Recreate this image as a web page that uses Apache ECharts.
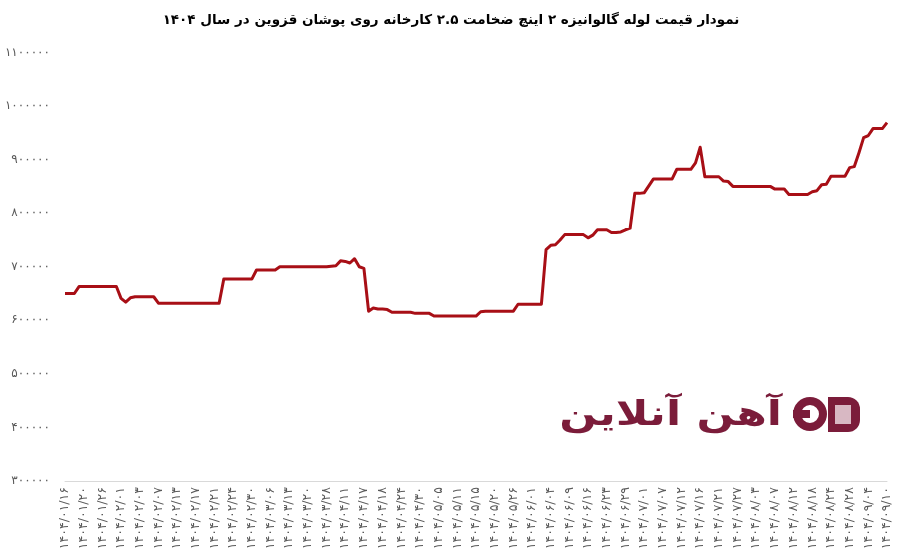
<!DOCTYPE html>
<html><head><meta charset="utf-8">
<script src="https://cdn.jsdelivr.net/npm/echarts@6/dist/echarts.min.js"></script>
<style>html,body{margin:0;padding:0;background:#fff}#c{width:902px;height:557px}</style>
</head><body><div id="c"></div><script>
const titleText = 'نمودار قیمت لوله گالوانیزه ۲ اینچ ضخامت ۲.۵ کارخانه روی پوشان قزوین در سال ۱۴۰۴';
const watermarkText = 'آهن آنلاین';

// dates shown on the axis (every 4th point)
const labelDates = ['1404/01/16','1404/01/20','1404/01/26','1404/02/01','1404/02/03','1404/02/07','1404/02/13','1404/02/17',
'1404/02/21','1404/02/24','1404/02/30','1404/03/06','1404/03/13','1404/03/20','1404/03/28','1404/04/11','1404/04/17',
'1404/04/18','1404/04/24','1404/04/30','1404/05/05','1404/05/11','1404/05/15','1404/05/20','1404/05/26','1404/06/01',
'1404/06/04','1404/06/09','1404/06/16','1404/06/23','1404/06/29','1404/07/01','1404/07/07','1404/07/12','1404/07/16',
'1404/07/21','1404/07/27','1404/08/03','1404/08/07','1404/08/12','1404/08/18','1404/08/24','1404/08/28','1404/09/04','1404/09/10'];
const pointsPerLabel = 4;

// price (rial), one per point
const prices = [
650000,650000,650000,
663000,663000,663000,663000,663000,663000,663000,663000,663000,
641000,634000,642000,
644000,644000,644000,644000,644000,
632000,632000,632000,632000,632000,632000,632000,632000,632000,632000,632000,632000,632000,632000,
677000,677000,677000,677000,677000,677000,677000,
694000,694000,694000,694000,694000,
700000,700000,700000,700000,700000,700000,700000,700000,700000,700000,700000,
701000,702000,711000,710000,707000,715000,700000,697000,
617000,623000,621000,621000,620000,
615000,615000,615000,615000,615000,
613000,613000,613000,613000,
608000,608000,608000,608000,608000,608000,608000,608000,608000,608000,
616000,
617000,617000,617000,617000,617000,617000,617000,
630000,630000,630000,630000,630000,630000,
732000,740000,741000,750000,
760000,760000,760000,760000,760000,
754000,759000,
769000,769000,769000,
764000,764000,
765000,769000,772000,
837000,837000,838000,
851000,
864000,864000,864000,864000,864000,
882000,882000,882000,882000,
894000,923000,
868000,868000,868000,868000,
860000,859000,
850000,850000,850000,850000,850000,850000,850000,850000,850000,
845000,845000,845000,
835000,835000,835000,835000,835000,
840000,842000,853000,854000,
869000,869000,869000,869000,
885000,887000,913000,941000,945000,
958000,958000,958000,
969000];

const yMin = 300000, yMax = 1100000, yStep = 100000;

const categories = [];
labelDates.forEach((d, k) => {
  categories.push(d);
  if (k < labelDates.length - 1) for (let j = 1; j < pointsPerLabel; j++) categories.push('');
});

const faDigits = '۰۱۲۳۴۵۶۷۸۹';
const toFa = s => String(s).replace(/\d/g, d => faDigits[d]);

const maroon = '#7b1c3a';
const chart = echarts.init(document.getElementById('c'), null, {renderer: 'canvas'});
chart.setOption({
  animation: false,
  backgroundColor: '#ffffff',
  title: {
    text: titleText, left: 'center', top: 8,
    textStyle: {fontFamily: 'DejaVu Sans', fontWeight: 'bold', fontSize: 13.5, color: '#000'}
  },
  grid: {left: 65, right: 15, top: 52.5, bottom: 76},
  xAxis: {
    type: 'category', data: categories, boundaryGap: false,
    axisLine: {lineStyle: {color: '#d9d9d9', width: 1}},
    axisTick: {show: false},
    axisLabel: {interval: pointsPerLabel - 1, rotate: 90, fontSize: 12.5, color: '#595959',
      fontFamily: 'DejaVu Sans', margin: 6, formatter: v => toFa(v)}
  },
  yAxis: {
    type: 'value', min: yMin, max: yMax, interval: yStep,
    axisLine: {show: false}, axisTick: {show: false}, splitLine: {show: false},
    axisLabel: {fontSize: 12, color: '#595959', fontFamily: 'DejaVu Sans', margin: 15, formatter: v => toFa(v)}
  },
  series: [{
    type: 'line', data: prices, symbol: 'none',
    lineStyle: {color: '#a80f16', width: 3, join: 'round'},
    itemStyle: {color: '#a80f16'}
  }],
  graphic: [
    {type: 'text', x: 782, y: 416, scaleX: 1.3, z: -1,
     style: {text: watermarkText, fill: maroon, font: 'bold 34px "DejaVu Sans"', textAlign: 'right', textVerticalAlign: 'middle'}},
    {type: 'ring', shape: {cx: 810, cy: 414, r: 17, r0: 9}, style: {fill: maroon}, z: -1},
    {type: 'rect', shape: {x: 793, y: 410, width: 17, height: 8}, style: {fill: maroon}, z: -1},
    {type: 'rect', shape: {x: 828, y: 397, width: 32, height: 35, r: [0, 12, 12, 0]}, style: {fill: maroon}, z: -1},
    {type: 'rect', shape: {x: 835, y: 405, width: 16, height: 19}, style: {fill: '#d8b8c3'}, z: -1}
  ]
});
</script></body></html>
